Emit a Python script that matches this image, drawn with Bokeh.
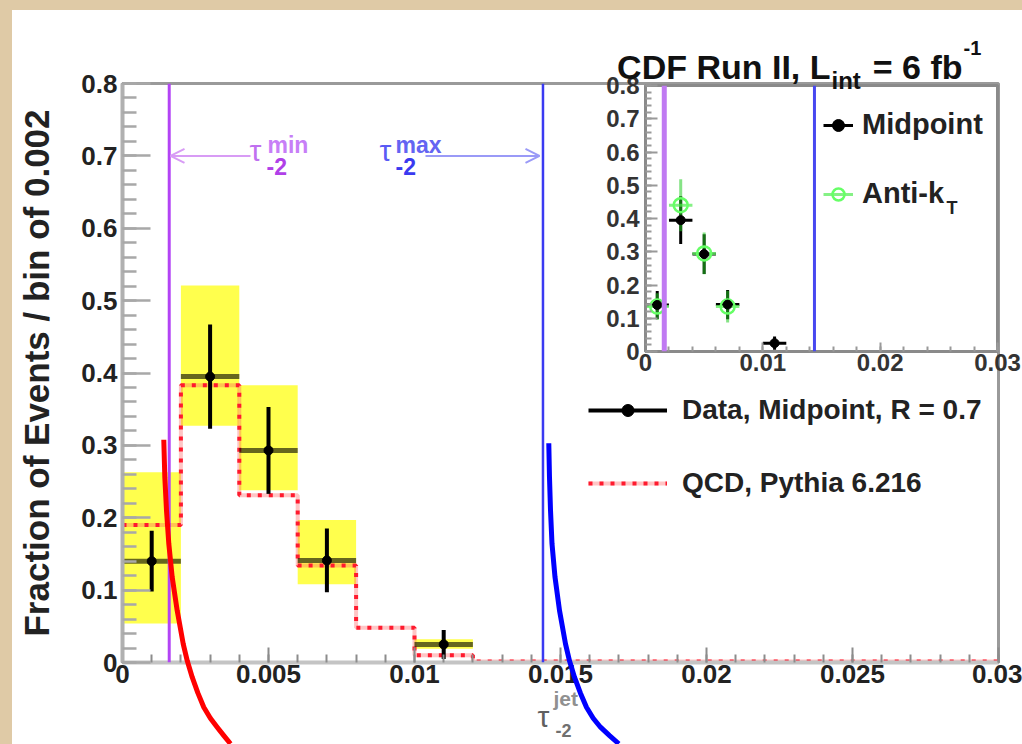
from bokeh.plotting import figure
from bokeh.models import (Range1d, SingleIntervalTicker, NumeralTickFormatter, Span, Arrow,
                          OpenHead, Label, Legend, LegendItem, GlobalInlineStyleSheet)
from bokeh.layouts import column
from bokeh.embed import file_html
from bokeh.resources import INLINE

FONT = "Liberation Sans"

# ---------------- data ----------------
# Data, Midpoint, R = 0.7 (bins of 0.002)
bin_lo = [0.000, 0.002, 0.004, 0.006, 0.010]
bin_hi = [0.002, 0.004, 0.006, 0.008, 0.012]
bin_center = [0.001, 0.003, 0.005, 0.007, 0.011]
data_val = [0.140, 0.395, 0.293, 0.141, 0.025]
data_stat_err = [0.042, 0.072, 0.060, 0.044, 0.020]
syst_lo = [0.054, 0.327, 0.238, 0.108, 0.019]
syst_hi = [0.263, 0.521, 0.383, 0.197, 0.032]

# QCD, Pythia 6.216 histogram
qcd_edges = [0.000, 0.002, 0.004, 0.006, 0.008, 0.010, 0.012, 0.014,
             0.016, 0.018, 0.020, 0.022, 0.024, 0.026, 0.028, 0.030]
qcd_val = [0.190, 0.383, 0.231, 0.134, 0.048, 0.010, 0.0015, 0.0015,
           0.0015, 0.0015, 0.0015, 0.0015, 0.0015, 0.0015, 0.0015]

# cut positions
tau_min_cut = 0.0016
tau_max_cut = 0.0144

# inset: Anti-kT
antikt_lo = [0.000, 0.002, 0.004, 0.006]
antikt_hi = [0.002, 0.004, 0.006, 0.008]
antikt_center = [0.001, 0.003, 0.005, 0.007]
antikt_val = [0.135, 0.440, 0.295, 0.135]
antikt_err = [0.040, 0.078, 0.063, 0.048]

# hand-drawn curves (data coordinates of the main plot)
red_curve_x = [0.001414, 0.001449, 0.001507, 0.001586, 0.001702, 0.001873,
               0.002079, 0.002220, 0.002387, 0.002580, 0.002784, 0.003010,
               0.003243, 0.003470, 0.003699]
red_curve_y = [0.3077, 0.2560, 0.2100, 0.1640, 0.1179, 0.0718,
               0.0258, 0.0020, -0.0203, -0.0420, -0.0618, -0.0770,
               -0.0894, -0.1010, -0.1123]
blue_curve_x = [0.014599, 0.014623, 0.014658, 0.014709, 0.014812, 0.014966,
                0.015171, 0.015310, 0.015479, 0.015680, 0.015890, 0.016120,
                0.016370, 0.016680, 0.016997]
blue_curve_y = [0.3030, 0.2560, 0.2100, 0.1640, 0.1179, 0.0718,
                0.0258, 0.0020, -0.0203, -0.0420, -0.0618, -0.0770,
                -0.0894, -0.1010, -0.1123]

# ---------------- derived ----------------
data_err_lo = [v - e for v, e in zip(data_val, data_stat_err)]
data_err_hi = [v + e for v, e in zip(data_val, data_stat_err)]
akt_err_lo = [v - e for v, e in zip(antikt_val, antikt_err)]
akt_err_hi = [v + e for v, e in zip(antikt_val, antikt_err)]
qcd_step_y = qcd_val + qcd_val[-1:]

# ---------------- page geometry ----------------
W, H = 1022, 744
FL, FR, FT, FB = 122, 998, 83, 662          # main frame in page pixels
XMIN, XMAX, YMIN, YMAX = 0.0, 0.03, 0.0, 0.8


def px2x(px):
    return XMIN + (px - FL) * (XMAX - XMIN) / (FR - FL)


def py2y(py):
    return YMIN + (FB - py) * (YMAX - YMIN) / (FB - FT)


def lab(fig, px, py, text, size, color, bold=True, align="left"):
    fig.add_layout(Label(x=px2x(px), y=py2y(py), text=text, text_font=FONT,
                         text_font_size=size,
                         text_font_style="bold" if bold else "normal",
                         text_color=color, text_align=align, text_baseline="alphabetic"))


# ---------------- main figure ----------------
p = figure(width=W, height=H, x_range=Range1d(XMIN, XMAX), y_range=Range1d(YMIN, YMAX),
           output_backend="svg", toolbar_location=None,
           min_border_left=FL, min_border_right=W - FR, min_border_top=FT,
           min_border_bottom=H - FB)
p.border_fill_color = None
p.background_fill_color = "white"
p.outline_line_color = "#9a9a9a"
p.outline_line_width = 3
p.grid.visible = False

p.xaxis.ticker = SingleIntervalTicker(interval=0.005, num_minor_ticks=5)
p.xaxis.formatter = NumeralTickFormatter(format="0.[000]")
p.xaxis.major_tick_in = 15
p.xaxis.major_tick_out = 0
p.xaxis.minor_tick_in = 8
p.xaxis.minor_tick_out = 0
p.xaxis.major_tick_line_color = "#8c8c8c"
p.xaxis.minor_tick_line_color = "#8c8c8c"
p.xaxis.major_tick_line_width = 2
p.xaxis.minor_tick_line_width = 2
p.xaxis.axis_line_color = "#c4c4c4"
p.xaxis.axis_line_width = 4
p.xaxis.major_label_standoff = 2

p.yaxis.ticker = SingleIntervalTicker(interval=0.1, num_minor_ticks=5)
p.yaxis.formatter = NumeralTickFormatter(format="0.[0]")
p.yaxis.major_tick_in = 28
p.yaxis.major_tick_out = 0
p.yaxis.minor_tick_in = 14
p.yaxis.minor_tick_out = 0
p.yaxis.major_tick_line_color = "#a8a8a8"
p.yaxis.minor_tick_line_color = "#a8a8a8"
p.yaxis.major_tick_line_width = 2.5
p.yaxis.minor_tick_line_width = 2.5
p.yaxis.axis_line_color = "#b0b0b0"
p.yaxis.axis_line_width = 4
p.yaxis.major_label_standoff = 5
p.yaxis.axis_label = "Fraction of Events / bin of 0.002"
p.yaxis.axis_label_text_font = FONT
p.yaxis.axis_label_text_font_size = "35px"
p.yaxis.axis_label_text_font_style = "bold"
p.yaxis.axis_label_text_color = "#222222"
p.yaxis.axis_label_standoff = 22

for ax in (p.xaxis, p.yaxis):
    ax.major_label_text_font = FONT
    ax.major_label_text_font_size = "26px"
    ax.major_label_text_font_style = "bold"
    ax.major_label_text_color = "#222222"

# systematic bands
p.quad(left=bin_lo, right=bin_hi, bottom=syst_lo, top=syst_hi,
       fill_color="#ffff4d", line_color=None)

# QCD histogram (dotted red)
qcd_under = p.step(qcd_edges, qcd_step_y, mode="after", line_color="#ff5a5a",
                   line_alpha=0.35, line_width=4)
qcd_dots = p.step(qcd_edges, qcd_step_y, mode="after", line_color="#ff1a2e",
                  line_width=4, line_dash="4 7")

# data
p.segment(x0=bin_lo, x1=bin_hi, y0=data_val, y1=data_val,
          line_color="black", line_alpha=0.6, line_width=5)
data_v = p.segment(x0=bin_center, x1=bin_center, y0=data_err_lo, y1=data_err_hi,
                   line_color="black", line_width=4)
data_pts = p.scatter(bin_center, data_val, size=9, color="black")

# cut lines
p.add_layout(Span(location=tau_min_cut, dimension="height", line_color="#b344f5", line_width=3))
p.add_layout(Span(location=tau_max_cut, dimension="height", line_color="#3a3af2", line_width=2.5))

# arrows
p.add_layout(Arrow(end=OpenHead(size=14, line_color="#d89cf5", line_width=2),
                   x_start=px2x(250), y_start=0.7, x_end=px2x(170), y_end=0.7,
                   line_color="#d89cf5", line_width=2))
p.add_layout(Arrow(end=OpenHead(size=14, line_color="#9a9af7", line_width=2),
                   x_start=px2x(425), y_start=0.7, x_end=px2x(539), y_end=0.7,
                   line_color="#9a9af7", line_width=2))

# arrow labels
lab(p, 249, 150, "τ", "30px", "#c070f0", bold=False)
lab(p, 267, 144, "min", "23px", "#c77ef7")
lab(p, 266, 166, "-2", "23px", "#b040e8")
lab(p, 379, 150, "τ", "30px", "#5a5af5", bold=False)
lab(p, 395, 144, "max", "23px", "#6464f2")
lab(p, 395, 166, "-2", "23px", "#3a3af0")

legend = Legend(items=[LegendItem(label="Data, Midpoint, R = 0.7", renderers=[data_v, data_pts]),
                       LegendItem(label="QCD, Pythia 6.216", renderers=[qcd_under, qcd_dots])],
                location=(466, 163), glyph_width=79, glyph_height=30, label_height=30,
                label_standoff=15, spacing=41, padding=0, margin=0,
                border_line_color=None, background_fill_alpha=0,
                label_text_font=FONT, label_text_font_size="28px",
                label_text_font_style="bold", label_text_color="#222222")
p.add_layout(legend)

# ---------------- inset ----------------
# (figures in one column share the main plot's left/right frame borders: 122 px / 24 px)
IL, IR, IT, IB = 645, 997, 85, 351          # inset frame in page pixels
ITOP = 12                                   # room above the inset frame for its top label
q = figure(width=(IR - IL) + FL + (W - FR), height=IB - IT + 32 + ITOP, x_range=Range1d(0, 0.03),
           y_range=Range1d(0, 0.8), output_backend="svg", toolbar_location=None,
           min_border_left=FL, min_border_right=W - FR, min_border_top=ITOP,
           min_border_bottom=32)
q.border_fill_color = None
q.background_fill_color = "white"
q.outline_line_color = "#8a8a8a"
q.outline_line_width = 3
q.grid.visible = False
q.xaxis.ticker = SingleIntervalTicker(interval=0.01, num_minor_ticks=5)
q.xaxis.formatter = NumeralTickFormatter(format="0.[00]")
q.yaxis.ticker = SingleIntervalTicker(interval=0.1, num_minor_ticks=5)
q.yaxis.formatter = NumeralTickFormatter(format="0.[0]")
q.xaxis.major_tick_in = 9
q.xaxis.minor_tick_in = 5
q.yaxis.major_tick_in = 12
q.yaxis.minor_tick_in = 6
for ax in (q.xaxis, q.yaxis):
    ax.major_tick_out = 0
    ax.minor_tick_out = 0
    ax.major_tick_line_color = "#999999"
    ax.minor_tick_line_color = "#999999"
    ax.major_tick_line_width = 2
    ax.minor_tick_line_width = 2
    ax.axis_line_color = "#8a8a8a"
    ax.axis_line_width = 3
    ax.major_label_text_font = FONT
    ax.major_label_text_font_size = "24px"
    ax.major_label_text_font_style = "bold"
    ax.major_label_text_color = "#333333"
q.xaxis.major_label_standoff = 2
q.yaxis.major_label_standoff = 6

q.add_layout(Span(location=tau_min_cut, dimension="height", line_color="#c07af2", line_width=5))
q.add_layout(Span(location=tau_max_cut, dimension="height", line_color="#4848f0", line_width=3))

q.segment(x0=bin_lo, x1=bin_hi, y0=data_val, y1=data_val, line_color="black", line_width=3)
mid_v = q.segment(x0=bin_center, x1=bin_center, y0=data_err_lo, y1=data_err_hi,
                  line_color="black", line_width=3)
akt_h = q.segment(x0=antikt_lo, x1=antikt_hi, y0=antikt_val, y1=antikt_val,
                  line_color="#66ee66", line_alpha=0.8, line_width=3)
q.segment(x0=antikt_center, x1=antikt_center, y0=akt_err_lo, y1=akt_err_hi,
          line_color="#22cc22", line_alpha=0.55, line_width=3)
akt_pts = q.scatter(antikt_center, antikt_val, marker="circle", size=14, fill_color=None,
                    line_color="#66ff66", line_width=2.5)
mid_pts = q.scatter(bin_center, data_val, size=9, color="black")

ilegend = Legend(items=[LegendItem(label="Midpoint", renderers=[mid_v, mid_pts]),
                        LegendItem(label="Anti-k", renderers=[akt_h, akt_pts])],
                 location=(178, 141), glyph_width=30, glyph_height=30, label_height=30,
                 label_standoff=9, spacing=36, padding=0, margin=0,
                 border_line_color=None, background_fill_alpha=0,
                 label_text_font=FONT, label_text_font_size="29px",
                 label_text_font_style="bold", label_text_color="#222222")
q.add_layout(ilegend)
q.add_layout(Label(x=(946 - IL) * 0.03 / (IR - IL), y=(IB - 207) * 0.8 / (IB - IT), text="T",
                   text_font=FONT, text_font_size="18px", text_font_style="bold",
                   text_color="#222222", text_baseline="alphabetic"))
q.styles = {"position": "absolute", "left": f"{IL - FL}px", "top": f"{IT - ITOP}px",
            "z-index": "2"}

# ---------------- overlay (same x frame as main plot, full page height) ----------------
o = figure(width=W, height=H, x_range=Range1d(XMIN, XMAX), y_range=Range1d(py2y(H), py2y(0)),
           output_backend="svg", toolbar_location=None, x_axis_location=None,
           y_axis_location=None, min_border_left=FL, min_border_right=W - FR,
           min_border_top=0, min_border_bottom=0)
o.border_fill_color = None
o.background_fill_color = None
o.outline_line_color = None
o.grid.visible = False

o.line(red_curve_x, red_curve_y, line_color="#ff0000", line_width=5, line_join="round")
o.line(blue_curve_x, blue_curve_y, line_color="#0000ff", line_width=5, line_join="round")

# title
lab(o, 830, 66, "CDF Run II, L", "34px", "#111111", align="right")
lab(o, 831, 80, "int", "24px", "#111111")
lab(o, 962, 66, "= 6 fb", "34px", "#111111", align="right")
lab(o, 963, 47, "-1", "20px", "#111111")

# x-axis title
lab(o, 537, 716, "τ", "30px", "#606060", bold=False)
lab(o, 553, 698, "jet", "21px", "#909090")
lab(o, 555, 730, "-2", "18px", "#707070")
o.styles = {"position": "absolute", "left": "0px", "top": "0px", "z-index": "3"}

layout = column(p, q, o)
layout.stylesheets = [GlobalInlineStyleSheet(css=(
    "body { background: linear-gradient(#dfcaa6, #dfcaa6) left top / 12px 3000px no-repeat, "
    "linear-gradient(#dfcaa6, #dfcaa6) left top / 3000px 10px no-repeat, #ffffff; }"))]

open("out.html", "w").write(file_html(layout, INLINE))
